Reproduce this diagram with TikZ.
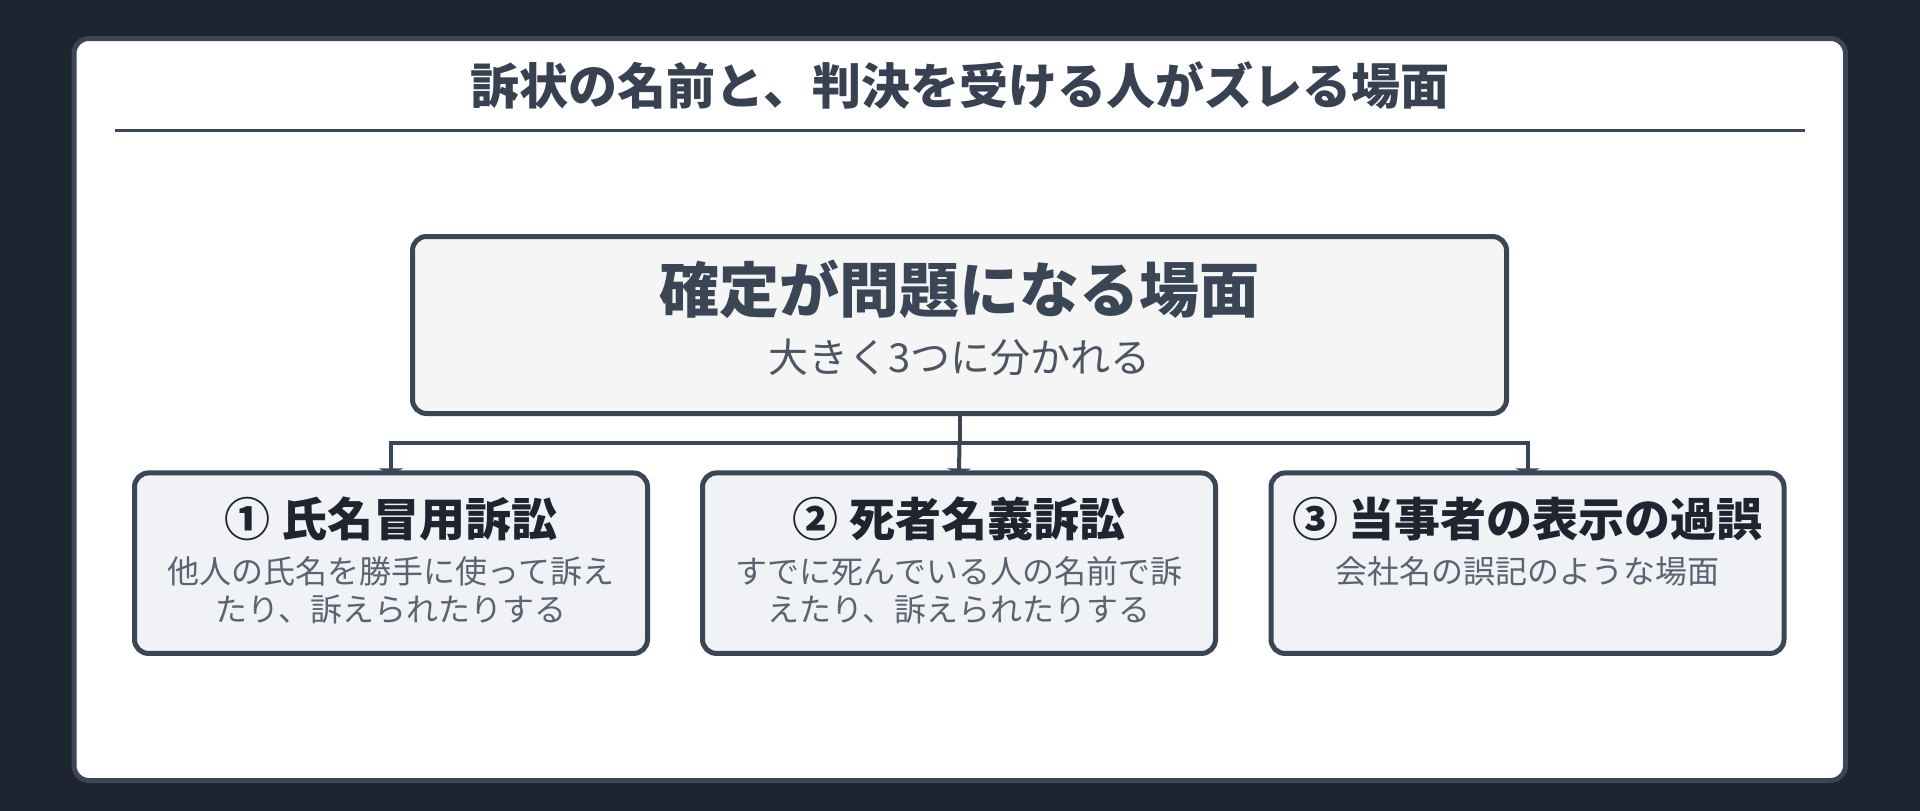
\documentclass[tikz,border=0pt]{standalone}
\usepackage{fontspec}
\setmainfont{Noto Sans CJK JP}
\usetikzlibrary{arrows.meta}
\pgfdeclarelayer{bgl}
\pgfdeclarelayer{connl}
\pgfsetlayers{bgl,connl,main}
\definecolor{bgdark}{HTML}{1E2530}
\definecolor{edge}{HTML}{3A4556}
\definecolor{titlec}{HTML}{374151}
\definecolor{topfill}{HTML}{F5F5F5}
\definecolor{boxfill}{HTML}{F0F2F5}
\definecolor{headc}{HTML}{1F2430}
\definecolor{descc}{HTML}{5B6272}
\definecolor{subc}{HTML}{4B5563}
\begin{document}
\begin{tikzpicture}[x=1pt,y=-1pt,
  card/.style={draw=edge, line width=5pt, fill=white, rounded corners=15pt},
  topbox/.style={draw=edge, line width=5pt, fill=topfill, rounded corners=14pt,
    minimum width=1094pt, minimum height=177pt, inner sep=0pt},
  subbox/.style={draw=edge, line width=5pt, fill=boxfill, rounded corners=14pt,
    minimum width=513pt, minimum height=180.5pt, inner sep=0pt},
  txt/.style={inner sep=0pt, anchor=base},
  maintitle/.style={txt, text=titlec, font=\fontsize{49}{59}\selectfont\bfseries},
  toptitle/.style={txt, text=edge, font=\fontsize{60}{72}\selectfont\bfseries},
  topsub/.style={txt, text=subc, font=\fontsize{40}{48}\selectfont},
  subtitle/.style={txt, text=headc, font=\fontsize{46}{55}\selectfont\bfseries},
  desc/.style={txt, text=descc, font=\fontsize{32}{38}\selectfont},
  conn/.style={draw=edge, line width=4pt},
  arr/.style={conn, -{Triangle[width=24pt,length=6pt]}, shorten >=-4pt}
]
\useasboundingbox (0,0) rectangle (1920,811);
\begin{pgfonlayer}{bgl}
  \fill[bgdark] (0,0) rectangle (1920,811);
  \draw[card] (74,38.5) rectangle (1845.5,780.5);
\end{pgfonlayer}

% title
\node[maintitle] (title) at (960,104.5) {訴状の名前と、判決を受ける人がズレる場面};
\draw[draw=edge, line width=3pt] (115,130) -- (1805,130);

% top box
\node[topbox] (top) at (959.5,325) {};
\node[toptitle] (toptxt) at (959.5,312.8) {確定が問題になる場面};
\node[topsub] (topsubtxt) at (959.5,372.2) {大きく3つに分かれる};

% sub boxes
\node[subbox] (b1) at (391,563.2) {};
\node[subbox] (b2) at (959,563.2) {};
\node[subbox] (b3) at (1527.5,563.2) {};

\node[subtitle] (h1) at (391,536.5) {① 氏名冒用訴訟};
\node[desc] (d1a) at (391,583.2) {他人の氏名を勝手に使って訴え};
\node[desc] (d1b) at (391,621.2) {たり、訴えられたりする};

\node[subtitle] (h2) at (959,536.5) {② 死者名義訴訟};
\node[desc] (d2a) at (959,583.2) {すでに死んでいる人の名前で訴};
\node[desc] (d2b) at (959,621.2) {えたり、訴えられたりする};

\node[subtitle] (h3) at (1527.5,536.5) {③ 当事者の表示の過誤};
\node[desc] (d3a) at (1527.5,583.2) {会社名の誤記のような場面};

% connectors
\coordinate (j) at (959.5,443);
\begin{pgfonlayer}{connl}
  \draw[conn] (top.south) -- (j);
  \draw[arr] (j) -| (b1.north);
  \draw[arr] (j) -- (b2.north);
  \draw[arr] (j) -| (b3.north);
\end{pgfonlayer}
\end{tikzpicture}
\end{document}
